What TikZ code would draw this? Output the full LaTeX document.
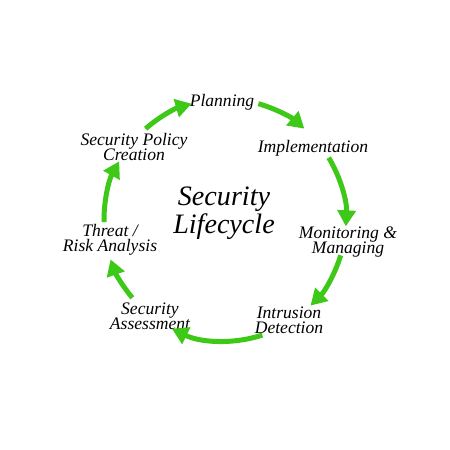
\documentclass[tikz,border=0pt]{standalone}
\usepackage{fontspec}
\setmainfont{Liberation Serif}
\usetikzlibrary{arrows.meta,calc}
\tikzset{>=latex}
\definecolor{cyclegreen}{RGB}{62,200,24}
\tikzstyle{stage}=[font=\itshape\fontsize{10}{8.8}\selectfont, align=center, inner sep=1pt]

\begin{document}
\begin{tikzpicture}[cycarrow/.style={draw=cyclegreen, line width=0.1cm, -{Triangle[length=0.32cm,width=0.36cm]}}]

    \def\r{2.42}
    \useasboundingbox (-4.5,-4.6) rectangle (4.5,4.4);

    % title in the middle
    \node[font=\itshape\fontsize{16}{14}\selectfont, align=center] (title) at (-0.02,0.14) {Security\\Lifecycle};

    % stages
    \node[stage] (plan) at (-0.06,2.36) {Planning};
    \node[stage] (impl) at (1.76,1.44) {Implementation};
    \node[stage] (moni) at (2.46,-0.44) {Monitoring \&\\Managing};
    \node[stage] (intr) at (1.28,-2.00) {Intrusion\\Detection};
    \node[stage] (asse) at (-1.50,-1.92) {Security\\Assessment};
    \node[stage] (thre) at (-2.30,-0.40) {Threat /\\Risk Analysis};
    \node[stage] (poli) at (-1.82,1.46) {Security Policy\\Creation};

    % arc start points
    \coordinate (s1) at (131:\r);
    \coordinate (s2) at (74:\r);
    \coordinate (s3) at (31:\r);
    \coordinate (s4) at (-17:\r);
    \coordinate (s5) at (-72:\r);
    \coordinate (s6) at (-140:\r);
    \coordinate (s7) at (181:\r);

    % arrows round the cycle
    \draw[cycarrow] (s1) arc[start angle=131, end angle=106, radius=\r];
    \draw[cycarrow] (s2) arc[start angle=74, end angle=49, radius=\r];
    \draw[cycarrow] (s3) arc[start angle=31, end angle=-3, radius=\r];
    \draw[cycarrow] (s4) arc[start angle=-17, end angle=-45, radius=\r];
    \draw[cycarrow] (s5) arc[start angle=-72, end angle=-116, radius=\r];
    \draw[cycarrow] (s6) arc[start angle=-140, end angle=-161, radius=\r];
    \draw[cycarrow] (s7) arc[start angle=181, end angle=151, radius=\r];

\end{tikzpicture}
\end{document}
